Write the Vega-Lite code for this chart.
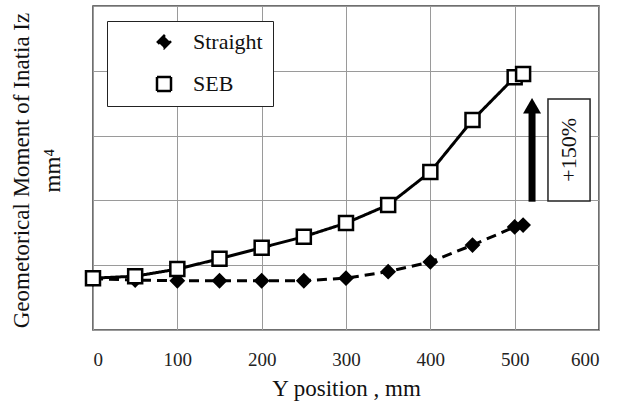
{
  "$schema": "https://vega.github.io/schema/vega-lite/v6.json",
  "width": 506,
  "height": 324,
  "autosize": {"type": "none"},
  "padding": {"left": 93, "top": 6, "right": 28, "bottom": 73},
  "background": "white",
  "config": {
    "view": {"stroke": "#404040", "strokeWidth": 1.5},
    "font": "Liberation Serif",
    "axis": {"gridColor": "#9a9a9a", "gridWidth": 1, "domain": false, "ticks": false, "tickSize": 0, "labelColor": "#222", "titleColor": "#111"}
  },
  "datasets": {
    "pts": [
      {"x": 0, "y": 0.79, "series": "Straight"},
      {"x": 50, "y": 0.77, "series": "Straight"},
      {"x": 100, "y": 0.76, "series": "Straight"},
      {"x": 150, "y": 0.76, "series": "Straight"},
      {"x": 200, "y": 0.76, "series": "Straight"},
      {"x": 250, "y": 0.76, "series": "Straight"},
      {"x": 300, "y": 0.80, "series": "Straight"},
      {"x": 350, "y": 0.90, "series": "Straight"},
      {"x": 400, "y": 1.05, "series": "Straight"},
      {"x": 450, "y": 1.31, "series": "Straight"},
      {"x": 500, "y": 1.59, "series": "Straight"},
      {"x": 510, "y": 1.62, "series": "Straight"},
      {"x": 0, "y": 0.80, "series": "SEB"},
      {"x": 50, "y": 0.83, "series": "SEB"},
      {"x": 100, "y": 0.94, "series": "SEB"},
      {"x": 150, "y": 1.10, "series": "SEB"},
      {"x": 200, "y": 1.27, "series": "SEB"},
      {"x": 250, "y": 1.44, "series": "SEB"},
      {"x": 300, "y": 1.65, "series": "SEB"},
      {"x": 350, "y": 1.93, "series": "SEB"},
      {"x": 400, "y": 2.44, "series": "SEB"},
      {"x": 450, "y": 3.24, "series": "SEB"},
      {"x": 500, "y": 3.90, "series": "SEB"},
      {"x": 510, "y": 3.95, "series": "SEB"}
    ],
    "arrow": [{"x": 520.6, "y": 1.98, "y2": 3.35, "head": 3.46}],
    "box": [{"x": 539.5, "x2": 589.4, "y": 1.99, "y2": 3.565, "tx": 564.5, "ty": 2.78, "label": "+150%"}]
  },
  "layer": [
    {
      "data": {"name": "pts"},
      "mark": {"type": "line", "color": "black", "strokeWidth": 3},
      "encoding": {
        "x": {"field": "x", "type": "quantitative", "scale": {"domain": [0, 600], "nice": false},
          "axis": {"values": [0, 100, 200, 300, 400, 500, 600], "title": "Y position , mm", "labelFontSize": 19, "labelPadding": 20, "titleFontSize": 23, "titlePadding": 8, "titleFontWeight": "normal"}},
        "y": {"field": "y", "type": "quantitative", "scale": {"domain": [0, 5], "nice": false},
          "axis": {"values": [0, 1, 2, 3, 4, 5], "labels": false, "title": ["Geometorical Moment of Inatia Iz", "mm⁴"], "titleFontSize": 23, "titleFontWeight": "normal", "titleAngle": -90, "titleX": -83, "titleY": 164, "titleBaseline": "top", "titleAlign": "center", "titleLineHeight": 31}},
        "strokeDash": {"field": "series", "type": "nominal",
          "scale": {"domain": ["Straight", "SEB"], "range": [[10, 6], [1, 0]]},
          "legend": {
            "title": null, "orient": "none", "legendX": 14, "legendY": 15,
            "fillColor": "white", "strokeColor": "#222", "padding": 10,
            "symbolSize": 144, "symbolOffset": 36, "labelOffset": 18, "rowPadding": 18,
            "symbolStrokeColor": "black", "symbolStrokeWidth": 2.5,
            "labelFontSize": 22, "labelColor": "#111",
            "labelExpr": "datum.label + '       '"
          }}
      }
    },
    {
      "data": {"name": "pts"},
      "mark": {"type": "point", "filled": false, "stroke": "black", "strokeWidth": 2.5, "opacity": 1},
      "encoding": {
        "x": {"field": "x", "type": "quantitative"},
        "y": {"field": "y", "type": "quantitative"},
        "shape": {"field": "series", "type": "nominal", "scale": {"domain": ["Straight", "SEB"], "range": ["diamond", "square"]}, "legend": null},
        "fill": {"field": "series", "type": "nominal", "scale": {"domain": ["Straight", "SEB"], "range": ["black", "white"]}, "legend": null},
        "size": {"field": "series", "type": "nominal", "scale": {"domain": ["Straight", "SEB"], "range": [150, 196]}, "legend": null}
      }
    },
    {
      "data": {"name": "arrow"},
      "mark": {"type": "rule", "color": "black", "strokeWidth": 7},
      "encoding": {
        "x": {"field": "x", "type": "quantitative"},
        "y": {"field": "y", "type": "quantitative"},
        "y2": {"field": "y2"}
      }
    },
    {
      "data": {"name": "arrow"},
      "mark": {"type": "point", "shape": "triangle-up", "filled": true, "color": "black", "size": 324, "opacity": 1},
      "encoding": {
        "x": {"field": "x", "type": "quantitative"},
        "y": {"field": "head", "type": "quantitative"}
      }
    },
    {
      "data": {"name": "box"},
      "mark": {"type": "rect", "fill": "white", "stroke": "#222", "strokeWidth": 1.5},
      "encoding": {
        "x": {"field": "x", "type": "quantitative"},
        "x2": {"field": "x2"},
        "y": {"field": "y", "type": "quantitative"},
        "y2": {"field": "y2"}
      }
    },
    {
      "data": {"name": "box"},
      "mark": {"type": "text", "angle": 270, "fontSize": 22, "color": "#111", "align": "center", "baseline": "middle"},
      "encoding": {
        "x": {"field": "tx", "type": "quantitative"},
        "y": {"field": "ty", "type": "quantitative"},
        "text": {"field": "label"}
      }
    }
  ]
}
